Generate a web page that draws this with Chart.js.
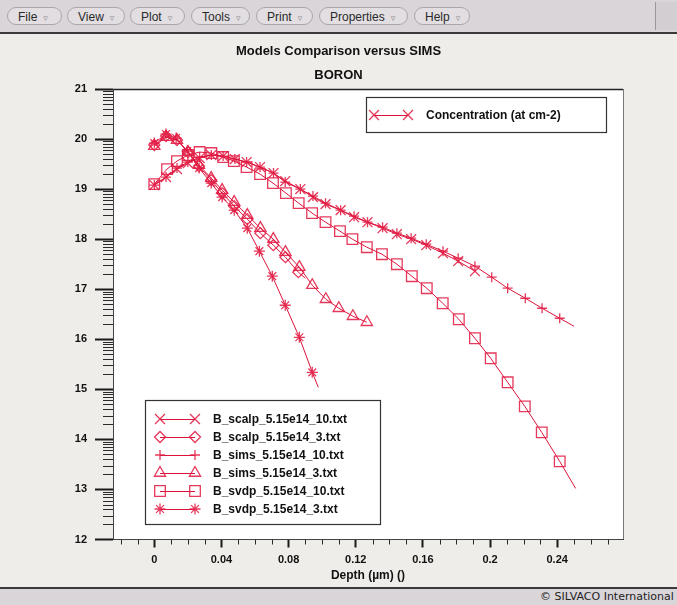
<!DOCTYPE html>
<html>
<head>
<meta charset="utf-8">
<title>Models Comparison versus SIMS</title>
<script src="https://cdn.jsdelivr.net/npm/chart.js@4/dist/chart.umd.min.js"></script>
<style>
  html, body { margin: 0; padding: 0; width: 677px; height: 605px; overflow: hidden;
    background: #efede9; font-family: "Liberation Sans", Arial, sans-serif; }
  #menubar { position: absolute; left: 0; top: 0; width: 677px; height: 32px;
    background: #d9d5d9; border-bottom: 2px solid #3a3a3a; }
  .menu { position: absolute; top: 7px; height: 18px; border: 1px solid #aaa6aa;
    border-radius: 9px; background: #e2dee2; font-size: 12px; line-height: 18px;
    color: #2a2a2a; padding-left: 10px; box-sizing: border-box; white-space: nowrap; }
  .menu span { color: #8d898d; font-family: "DejaVu Sans", sans-serif; font-size: 9px; margin-left: 6px; }
  #corner { position: absolute; left: 655px; top: 2px; width: 22px; height: 28px;
    background: #d2ced2; border-left: 1px solid #9a969a; }
  #chartwrap { position: absolute; left: 0; top: 34px; width: 677px; height: 554px; }
  #footer { position: absolute; left: 0; top: 587px; width: 677px; height: 16px;
    background: #d9d5d9; border-top: 2px solid #3a3a3a; overflow: hidden; }
  #footer div { position: absolute; left: 540px; top: 1px; font-family: "DejaVu Sans", sans-serif;
    font-size: 11px; color: #222; white-space: nowrap; }
</style>
</head>
<body>
<div id="menubar">
  <div class="menu" style="left:7px;width:55px">File<span>&#9663;</span></div>
  <div class="menu" style="left:67px;width:58px">View<span>&#9663;</span></div>
  <div class="menu" style="left:130px;width:55px">Plot<span>&#9663;</span></div>
  <div class="menu" style="left:191px;width:59px">Tools<span>&#9663;</span></div>
  <div class="menu" style="left:256px;width:57px">Print<span>&#9663;</span></div>
  <div class="menu" style="left:319px;width:89px">Properties<span>&#9663;</span></div>
  <div class="menu" style="left:414px;width:56px">Help<span>&#9663;</span></div>
  <div id="corner"></div>
</div>
<div id="chartwrap"><canvas id="chart" width="677" height="554"></canvas></div>
<div id="footer"><div>&copy; SILVACO International</div></div>

<script>
// Boron profiles: depth in um, log10 concentration
const depthScalp10 = [0, 0.007, 0.0135, 0.020, 0.027, 0.034, 0.041, 0.048, 0.055, 0.063, 0.071, 0.078, 0.087, 0.0945, 0.102, 0.111, 0.119, 0.127, 0.136, 0.1445, 0.153, 0.162, 0.172, 0.181, 0.191];
const concScalp10  = [19.08, 19.24, 19.40, 19.52, 19.62, 19.68, 19.66, 19.60, 19.54, 19.44, 19.32, 19.16, 19.00, 18.84, 18.70, 18.58, 18.44, 18.34, 18.22, 18.10, 18.00, 17.88, 17.72, 17.56, 17.36];

const depthScalp3 = [0, 0.007, 0.0135, 0.0201, 0.0266, 0.0339, 0.0404, 0.0476, 0.0554, 0.0632, 0.0709, 0.0781, 0.0858, 0.090];
const concScalp3  = [19.88, 20.06, 19.98, 19.74, 19.46, 19.18, 18.92, 18.66, 18.40, 18.12, 17.88, 17.64, 17.34, 17.22];

const depthSims10 = [0, 0.007, 0.0135, 0.020, 0.027, 0.034, 0.041, 0.048, 0.055, 0.063, 0.071, 0.078, 0.087, 0.0945, 0.102, 0.111, 0.119, 0.127, 0.136, 0.1445, 0.153, 0.162, 0.172, 0.181, 0.191, 0.201, 0.2105, 0.221, 0.231, 0.2415, 0.250];
const concSims10  = [19.08, 19.24, 19.42, 19.54, 19.64, 19.68, 19.66, 19.60, 19.54, 19.44, 19.32, 19.14, 19.00, 18.86, 18.72, 18.58, 18.46, 18.34, 18.24, 18.12, 18.02, 17.90, 17.76, 17.62, 17.46, 17.24, 17.02, 16.82, 16.62, 16.42, 16.26];

const depthSims3 = [0, 0.007, 0.0135, 0.0201, 0.0266, 0.0339, 0.0404, 0.0476, 0.0554, 0.0632, 0.0709, 0.0781, 0.0864, 0.0941, 0.1022, 0.1099, 0.1183, 0.1266];
const concSims3  = [19.86, 20.04, 19.98, 19.74, 19.48, 19.22, 18.98, 18.74, 18.48, 18.22, 18.00, 17.74, 17.44, 17.08, 16.80, 16.62, 16.46, 16.34];

const depthSvdp10 = [0, 0.0076, 0.0135, 0.020, 0.027, 0.034, 0.041, 0.0474, 0.055, 0.063, 0.0707, 0.0784, 0.086, 0.094, 0.102, 0.1106, 0.118, 0.1266, 0.1356, 0.1445, 0.1534, 0.1623, 0.1718, 0.1814, 0.191, 0.2004, 0.2105, 0.2207, 0.2308, 0.2415, 0.251];
const concSvdp10  = [19.10, 19.40, 19.56, 19.68, 19.74, 19.72, 19.64, 19.56, 19.44, 19.30, 19.12, 18.92, 18.72, 18.52, 18.34, 18.16, 18.00, 17.84, 17.70, 17.50, 17.26, 17.02, 16.72, 16.40, 16.02, 15.62, 15.14, 14.66, 14.14, 13.56, 13.02];

const depthSvdp3 = [0, 0.007, 0.013, 0.0196, 0.0267, 0.0339, 0.0404, 0.0476, 0.0554, 0.0626, 0.0703, 0.078, 0.0864, 0.0941, 0.0977];
const concSvdp3  = [19.92, 20.10, 20.02, 19.76, 19.42, 19.12, 18.84, 18.58, 18.22, 17.76, 17.26, 16.68, 16.04, 15.34, 15.04];

const seriesNames = ['B_scalp_5.15e14_10.txt', 'B_scalp_5.15e14_3.txt', 'B_sims_5.15e14_10.txt',
                     'B_sims_5.15e14_3.txt', 'B_svdp_5.15e14_10.txt', 'B_svdp_5.15e14_3.txt'];
const depthTicks = [0, 0.04, 0.08, 0.12, 0.16, 0.2, 0.24];
const depthTickLabels = ['0', '0.04', '0.08', '0.12', '0.16', '0.2', '0.24'];
const concTickLabels = ['12', '13', '14', '15', '16', '17', '18', '19', '20', '21'];
const chartTitle = 'Models Comparison versus SIMS';
const chartSubtitle = 'BORON';
const xAxisTitle = 'Depth (\u00b5m) ()';
const quantityLabel = 'Concentration (at cm-2)';

const LINE = '#dc143c';
const MARK = 'rgba(226, 28, 68, 0.88)';
const FONT = '"Liberation Sans", Arial, sans-serif';

function pts(xs, ys) { return xs.map((x, i) => ({ x: x, y: ys[i] })); }

// marker style / size per series; "tail" = last sample has no marker
const looks = [
  { style: 'crossRot', r: 7,   tail: false },
  { style: 'rectRot',  r: 5.5, tail: true  },
  { style: 'cross',    r: 5,   tail: true  },
  { style: 'triangle', r: 6.5, tail: false },
  { style: 'rect',     r: 7.5, tail: true  },
  { style: 'star',     r: 5.5, tail: true  }
];
const sources = [
  pts(depthScalp10, concScalp10), pts(depthScalp3, concScalp3),
  pts(depthSims10, concSims10),   pts(depthSims3, concSims3),
  pts(depthSvdp10, concSvdp10),   pts(depthSvdp3, concSvdp3)
];

const datasets = sources.map((data, i) => {
  const lk = looks[i];
  return {
    label: seriesNames[i],
    data: data,
    borderColor: LINE,
    borderWidth: 1,
    pointStyle: lk.style,
    pointBorderColor: MARK,
    pointBackgroundColor: 'rgba(0,0,0,0)',
    pointBorderWidth: 1.3,
    pointRadius: (ctx) => (lk.tail && ctx.dataIndex === data.length - 1) ? 0 : lk.r,
    pointHoverRadius: lk.r,
    tension: 0,
    fill: false
  };
});

// white plotting field with its frame
const plotFrame = {
  id: 'plotFrame',
  beforeDraw(chart) {
    const { ctx, chartArea: a } = chart;
    ctx.save();
    ctx.fillStyle = '#ffffff';
    ctx.fillRect(a.left, a.top, a.right - a.left, a.bottom - a.top);
    ctx.strokeStyle = '#222';
    ctx.lineWidth = 1.5;
    ctx.beginPath();
    ctx.moveTo(a.left, a.top + 0.5);
    ctx.lineTo(a.right, a.top + 0.5);
    ctx.stroke();
    ctx.strokeStyle = '#777';
    ctx.lineWidth = 1;
    ctx.beginPath();
    ctx.moveTo(a.right + 0.5, a.top);
    ctx.lineTo(a.right + 0.5, a.bottom);
    ctx.stroke();
    ctx.restore();
  }
};

// logarithmic minor ticks on the concentration axis, 0.01 steps on depth
const minorTicks = {
  id: 'minorTicks',
  afterDraw(chart) {
    const { ctx, chartArea: a, scales } = chart;
    const ys = scales.y, xs = scales.x;
    ctx.save();
    ctx.strokeStyle = '#2a2a2a';
    ctx.lineWidth = 1;
    ctx.beginPath();
    for (let d = 12; d < 21; d++) {
      for (let k = 2; k <= 9; k++) {
        const py = Math.round(ys.getPixelForValue(d + Math.log10(k))) + 0.5;
        ctx.moveTo(a.left - 10, py);
        ctx.lineTo(a.left, py);
      }
    }
    for (let i = -2; i <= 27; i++) {
      if (i % 4 === 0) continue;
      const px = Math.round(xs.getPixelForValue(i * 0.01)) + 0.5;
      if (px < a.left || px > a.right) continue;
      ctx.moveTo(px, a.bottom);
      ctx.lineTo(px, a.bottom + 5);
    }
    ctx.stroke();
    ctx.restore();
  }
};

function marker(ctx, style, r, x, y) {
  ctx.save();
  ctx.strokeStyle = MARK;
  ctx.fillStyle = 'rgba(0,0,0,0)';
  ctx.lineWidth = 1.3;
  Chart.helpers.drawPoint(ctx, { pointStyle: style, radius: r, rotation: 0, borderWidth: 1.3 }, x, y);
  ctx.restore();
}

function sample(ctx, style, r, x1, x2, y) {
  ctx.save();
  ctx.strokeStyle = LINE;
  ctx.lineWidth = 1;
  ctx.beginPath();
  ctx.moveTo(x1, y + 0.5);
  ctx.lineTo(x2, y + 0.5);
  ctx.stroke();
  ctx.restore();
  marker(ctx, style, r, x1, y);
  marker(ctx, style, r, x2, y);
}

// the two boxed keys inside the plotting field
const boxedKeys = {
  id: 'boxedKeys',
  afterDraw(chart) {
    const { ctx, chartArea: a } = chart;
    ctx.save();
    ctx.font = 'bold 12px ' + FONT;
    ctx.textBaseline = 'middle';
    ctx.textAlign = 'left';

    // quantity key, upper right
    const qx = a.left + 253, qy = a.top + 8, qw = 240, qh = 35;
    ctx.fillStyle = '#fff';
    ctx.fillRect(qx, qy, qw, qh);
    ctx.strokeStyle = '#333';
    ctx.lineWidth = 1.2;
    ctx.strokeRect(qx + 0.5, qy + 0.5, qw, qh);
    sample(ctx, 'crossRot', 7, qx + 8, qx + 42, qy + 18);
    ctx.fillStyle = '#111';
    ctx.fillText(quantityLabel, qx + 60, qy + 19);

    // series key, lower left
    const lw = 235, lh = 124;
    const lx = a.left + 32, ly = a.bottom - 15.5 - lh;
    ctx.fillStyle = '#fff';
    ctx.fillRect(lx, ly, lw, lh);
    ctx.strokeStyle = '#333';
    ctx.strokeRect(lx + 0.5, ly + 0.5, lw, lh);
    chart.data.datasets.forEach((ds, i) => {
      const y = ly + 19 + i * 18;
      sample(ctx, looks[i].style, looks[i].r, lx + 15, lx + 50, y);
      ctx.fillStyle = '#111';
      ctx.fillText(ds.label, lx + 68, y + 1);
    });
    ctx.restore();
  }
};

new Chart(document.getElementById('chart'), {
  type: 'line',
  data: { datasets: datasets },
  plugins: [plotFrame, minorTicks, boxedKeys],
  options: {
    responsive: false,
    animation: false,
    devicePixelRatio: 1,
    layout: { padding: 0 },
    plugins: {
      legend: { display: false },
      tooltip: { enabled: false },
      title: {
        display: true, text: chartTitle, color: '#111',
        font: { family: FONT, size: 13, weight: 'bold', lineHeight: 1.2 },
        padding: { top: 10, bottom: 8 }
      },
      subtitle: {
        display: true, text: chartSubtitle, color: '#111',
        font: { family: FONT, size: 13, weight: 'bold', lineHeight: 1.2 },
        padding: { top: 0, bottom: 5.8 }
      }
    },
    scales: {
      x: {
        type: 'linear', position: 'bottom',
        min: -0.0246, max: 0.2792,
        afterBuildTicks: (s) => { s.ticks = depthTicks.map(v => ({ value: v })); },
        afterFit: (s) => { s.height = 48.5; },
        ticks: {
          autoSkip: false, maxRotation: 0, padding: 6, color: '#111',
          font: { family: FONT, size: 11, weight: 'bold' },
          callback: (v, i) => depthTickLabels[i]
        },
        grid: { display: true, drawOnChartArea: false, drawTicks: true, tickLength: 8, tickWidth: 2, tickColor: '#1a1a1a' },
        border: { display: true, color: '#444', width: 1 },
        title: {
          display: true, text: xAxisTitle, color: '#111',
          font: { family: FONT, size: 12, weight: 'bold', lineHeight: 1.2 },
          padding: { top: 0, bottom: 4.8 }
        }
      },
      y: {
        type: 'linear', position: 'left',
        min: 12, max: 21,
        afterFit: (s) => { s.width = 113; },
        ticks: {
          stepSize: 1, padding: 8, color: '#111',
          font: { family: FONT, size: 11, weight: 'bold' },
          callback: (v) => concTickLabels[Math.round(v) - 12]
        },
        grid: { display: true, drawOnChartArea: false, drawTicks: true, tickLength: 18, tickWidth: 2, tickColor: '#1a1a1a' },
        border: { display: true, color: '#444', width: 1 }
      },
      // empty margin to the right of the plotting field
      rightMargin: {
        type: 'linear', position: 'right', display: true,
        afterFit: (s) => { s.width = 54; },
        ticks: { display: false },
        grid: { display: false, drawTicks: false },
        border: { display: false }
      }
    }
  }
});
</script>
</body>
</html>
